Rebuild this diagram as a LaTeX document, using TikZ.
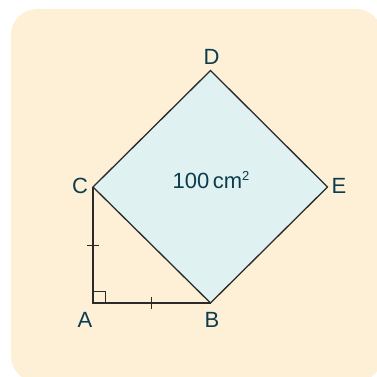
\documentclass[tikz,border=0pt]{standalone}
\usepackage{fontspec}
\setmainfont{Liberation Sans}
\usepackage{tikz}

\definecolor{cream}{HTML}{FEF0D6}
\definecolor{sqfill}{HTML}{DFF1F0}
\definecolor{labelcol}{HTML}{0D3C4E}
\definecolor{linecol}{HTML}{2A2A2A}

\tikzset{
  lbl/.style={text=labelcol,font=\fontsize{22}{26}\selectfont,inner sep=0pt},
  edge/.style={draw=linecol,line width=1.3pt,line join=miter},
  tick/.style={draw=linecol,line width=1pt}
}

\begin{document}
\begin{tikzpicture}[x=1pt,y=-1pt]
\useasboundingbox (0,0) rectangle (377,377);
%%%%%%%%% background
\begin{scope}
\clip (0,0) rectangle (377,377);
\fill[cream,rounded corners=26pt] (11,9) rectangle (382,382);
\end{scope}

%%%%%%%%% points
\coordinate (A) at (93,303);
\coordinate (B) at (210.5,303);
\coordinate (C) at (93,187);
\coordinate (D) at (210.5,70.5);
\coordinate (E) at (327.5,187);

%%%%%%%%% square
\fill[sqfill] (C) -- (D) -- (E) -- (B) -- cycle;
\draw[edge] (C) -- (D) -- (E) -- (B) -- cycle;
\draw[edge] (C) -- (A) -- (B);

%%%%%%%%% right angle and ticks
\coordinate (r1) at (105,303);
\coordinate (r2) at (105,291);
\coordinate (r3) at (93,291);
\draw[tick] (r1) -- (r2) -- (r3);

\coordinate (t1) at (87,245);
\coordinate (t2) at (99,245);
\draw[tick] (t1) -- (t2);
\coordinate (t3) at (151.5,297);
\coordinate (t4) at (151.5,309);
\draw[tick] (t3) -- (t4);

%%%%%%%%% labels
\node[lbl] (lA) at (85,320) {A};
\node[lbl] (lB) at (212,320) {B};
\node[lbl] (lC) at (80,186) {C};
\node[lbl] (lD) at (211.5,57) {D};
\node[lbl] (lE) at (339,186) {E};
\node[lbl] (area) at (211,180) {100\,cm{\fontsize{13}{15}\selectfont\raisebox{0.55em}{2}}};

\end{tikzpicture}
\end{document}
